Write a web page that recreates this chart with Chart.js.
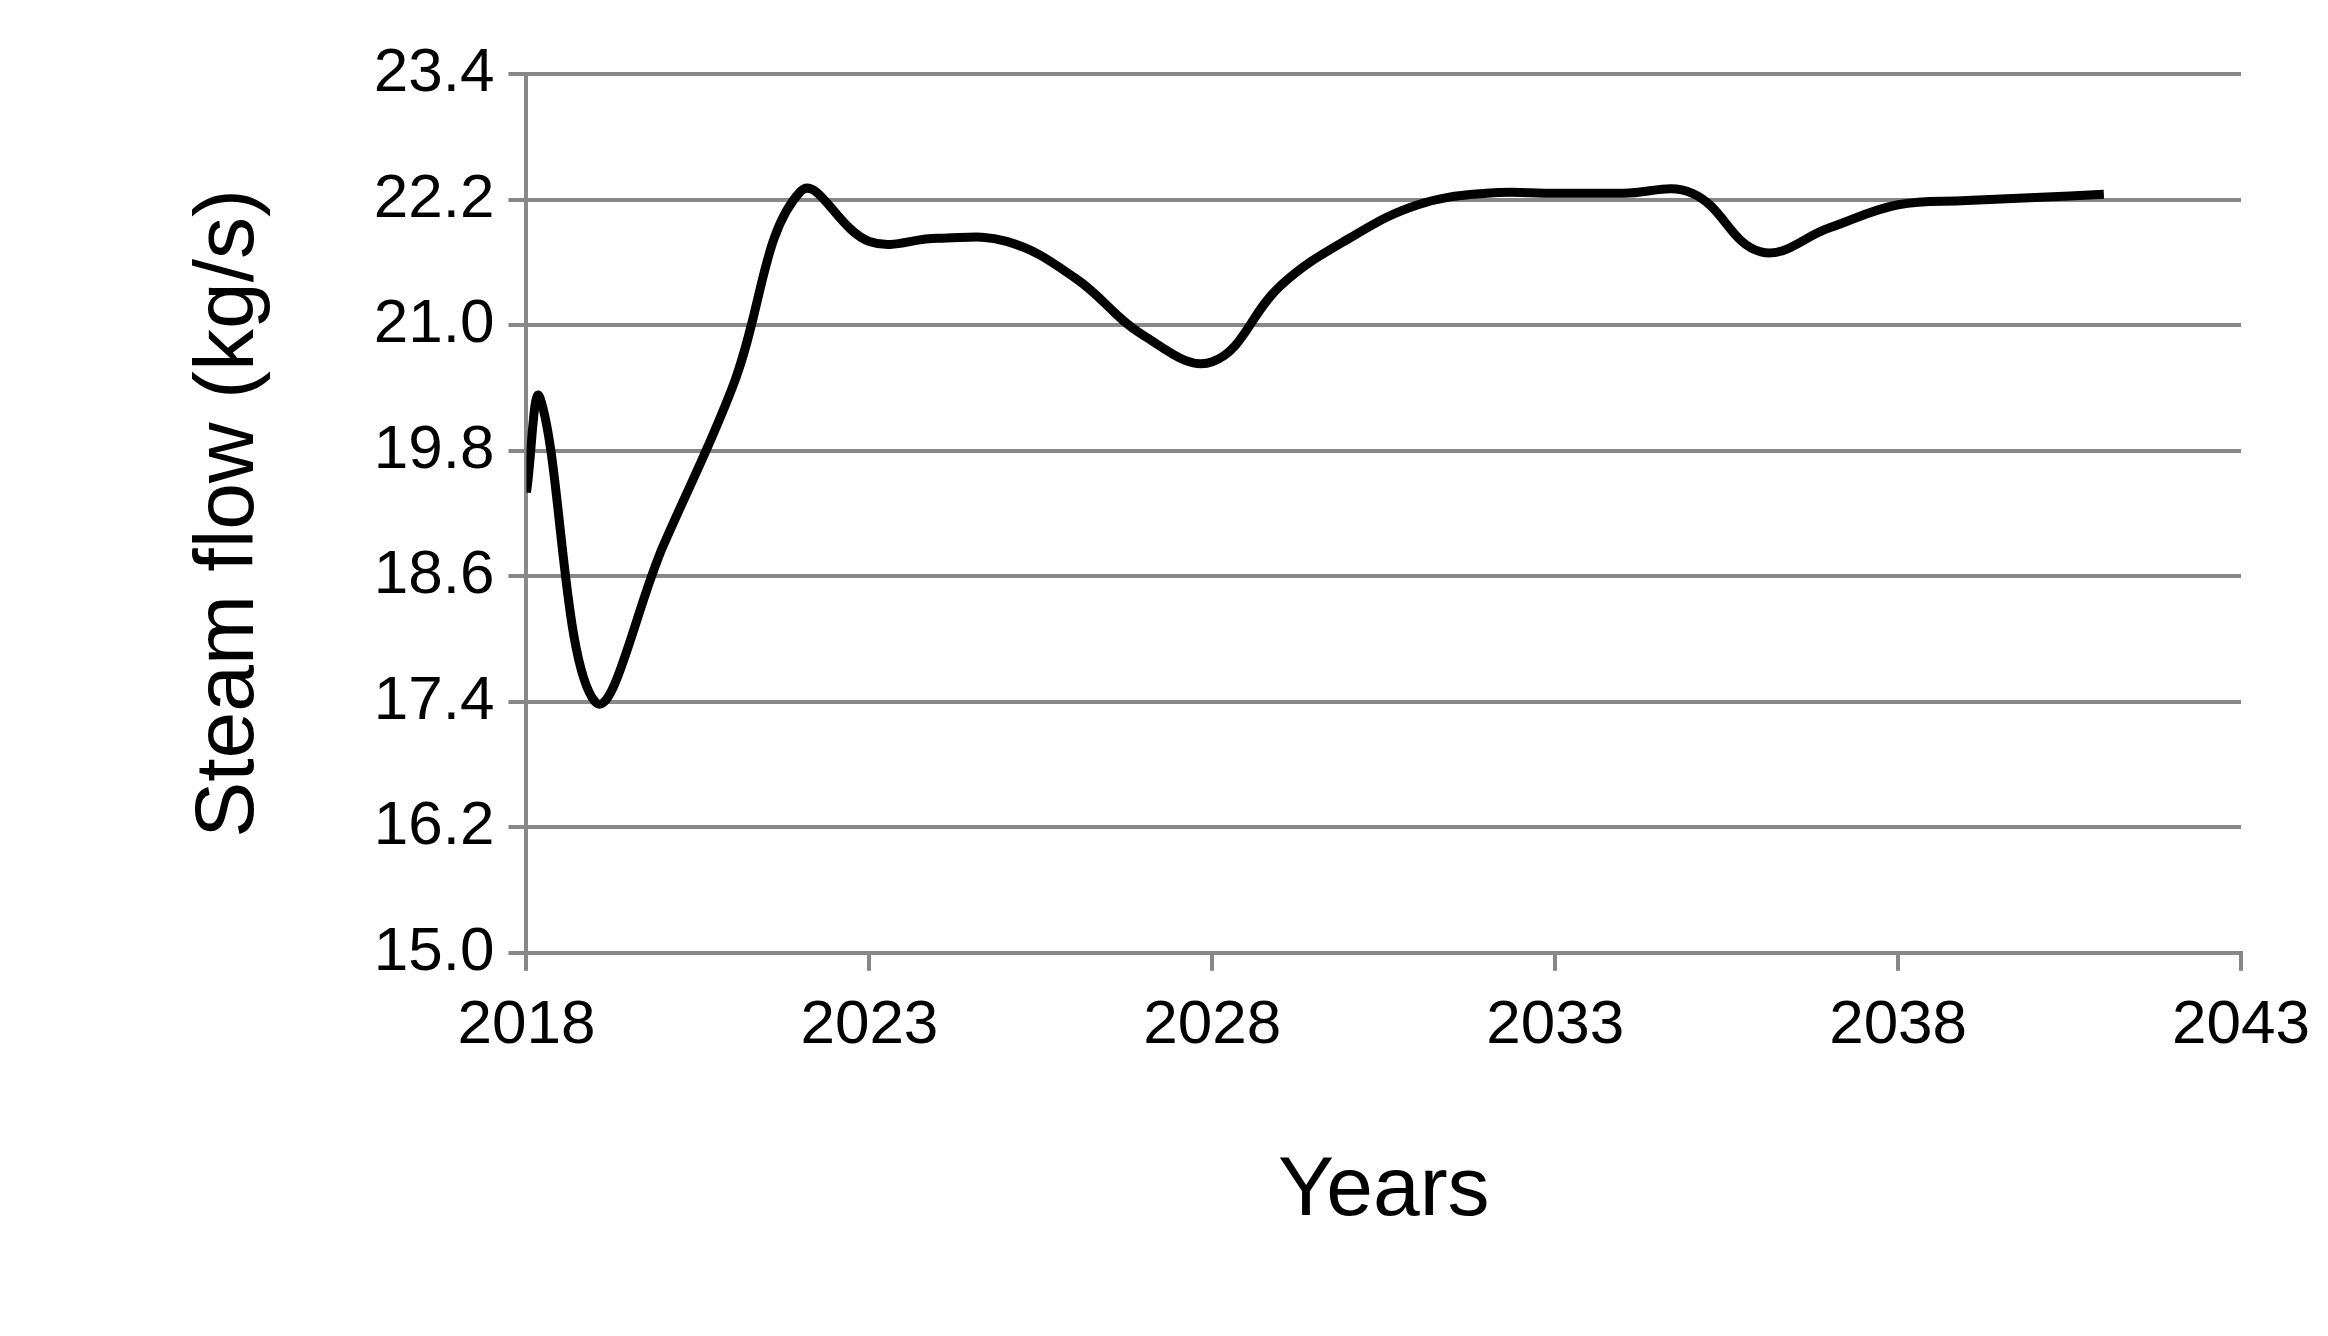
<!DOCTYPE html>
<html>
<head>
<meta charset="utf-8">
<script src="https://cdn.jsdelivr.net/npm/chart.js@4"></script>
<style>
  html, body { margin: 0; padding: 0; background: #fff; }
</style>
</head>
<body>
<canvas id="chart" width="2328" height="1336"></canvas>
<script>
// values
const years = [2018, 2018.2, 2019, 2020, 2021, 2022, 2023, 2024, 2025, 2026, 2027, 2028, 2029, 2030,
  2031, 2032, 2033, 2034, 2035, 2036, 2037, 2038, 2039, 2040, 2041];
const steamFlow = [19.4, 20.3, 17.4, 18.9, 20.4, 22.28, 21.8, 21.83, 21.8, 21.45, 20.9, 20.65, 21.38, 21.83,
  22.15, 22.26, 22.26, 22.26, 22.26, 21.7, 21.93, 22.15, 22.19, 22.22, 22.25];
const yTicks = [15.0, 16.2, 17.4, 18.6, 19.8, 21.0, 22.2, 23.4];
const xTicks = [2018, 2023, 2028, 2033, 2038, 2043];

const points = years.map((y, i) => ({ x: y, y: steamFlow[i] }));
const font = "'Liberation Sans', 'DejaVu Sans', sans-serif";

new Chart(document.getElementById('chart').getContext('2d'), {
  type: 'line',
  data: {
    datasets: [{
      data: points,
      borderColor: '#000',
      borderWidth: 9,
      pointRadius: 0,
      tension: 0.4,
      fill: false
    }]
  },
  options: {
    responsive: false,
    animation: false,
    layout: { padding: { top: 74, right: 60, left: 175, bottom: 90 } },
    plugins: { legend: { display: false }, tooltip: { enabled: false } },
    scales: {
      x: {
        type: 'linear',
        min: 2018, max: 2043,
        afterBuildTicks: axis => { axis.ticks = xTicks.map(v => ({ value: v })); },
        grid: { drawOnChartArea: false, color: '#888', lineWidth: 4, tickLength: 18 },
        border: { color: '#888', width: 4 },
        ticks: { color: '#000', font: { family: font, size: 62 }, padding: 18, callback: v => String(v) },
        title: { display: true, text: 'Years', color: '#000', font: { family: font, size: 84 }, padding: { top: 60 } }
      },
      y: {
        min: 15.0, max: 23.4,
        afterBuildTicks: axis => { axis.ticks = yTicks.map(v => ({ value: v })); },
        grid: { color: '#888', lineWidth: 4, tickLength: 18 },
        border: { color: '#888', width: 4 },
        ticks: { color: '#000', font: { family: font, size: 62 }, padding: 14, callback: v => v.toFixed(1) },
        title: { display: true, text: 'Steam flow (kg/s)', color: '#000', font: { family: font, size: 84 }, padding: { bottom: 80 } }
      }
    }
  }
});
</script>
</body>
</html>
